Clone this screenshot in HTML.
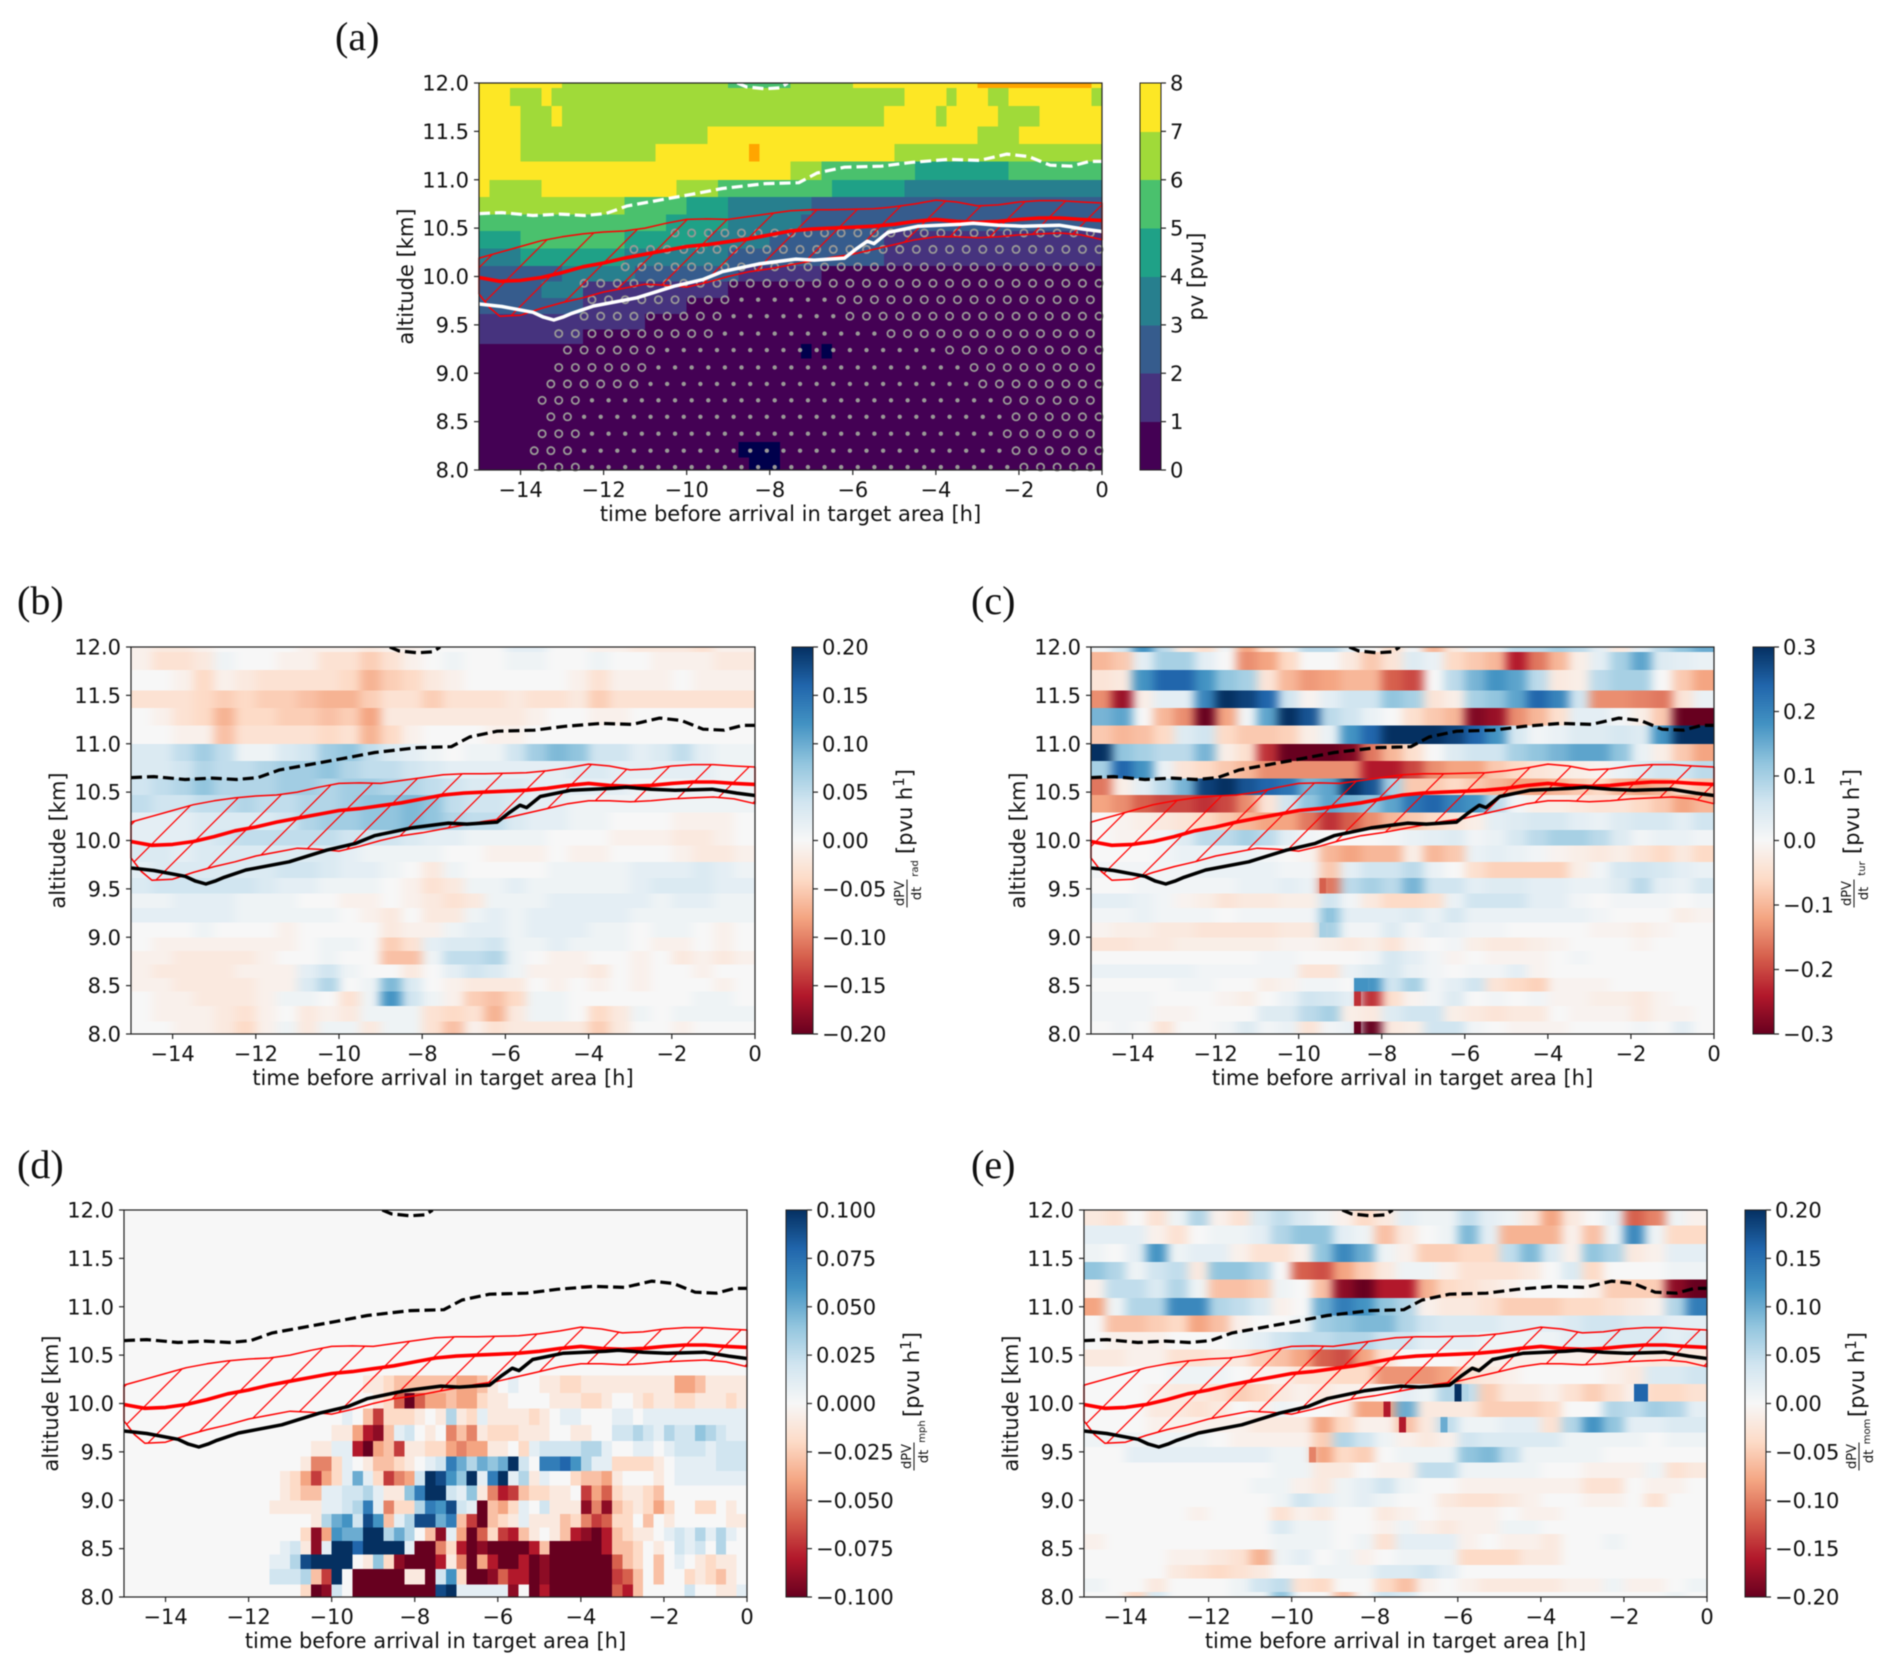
<!DOCTYPE html>
<html lang="en">
<head>
<meta charset="utf-8">
<title>PV tendencies along trajectories</title>
<style>
html,body{margin:0;padding:0;background:#fff;}
body{width:1892px;height:1671px;overflow:hidden;}
svg{display:block;font-family:"DejaVu Sans","Liberation Sans",sans-serif;fill:#111;filter:blur(0.5px);}
</style>
</head>
<body>
<svg id="figure" xmlns="http://www.w3.org/2000/svg" width="1892" height="1671" viewBox="0 0 1892 1671">
<defs id="defs">
<filter id="row-smooth" filterUnits="userSpaceOnUse" x="0" y="0" width="1892" height="1671" color-interpolation-filters="sRGB"><feGaussianBlur stdDeviation="5 0"/></filter>
</defs>
</svg>
<script>
// ---------- shared axis data ----------
const xTickHours = [-14,-12,-10,-8,-6,-4,-2,0];
const yTickKm = [8.0,8.5,9.0,9.5,10.0,10.5,11.0,11.5,12.0];
const stdEdges = [12,11.95,11.76,11.55,11.37,11.19,11.0,10.82,10.64,10.47,10.29,10.11,9.95,9.78,9.61,9.45,9.3,9.15,9.0,8.86,8.72,8.58,8.44,8.29,8.13,8.0];
const momEdges = [12,11.84,11.65,11.46,11.28,11.09,10.91,10.74,10.56,10.38,10.2,10.02,9.86,9.70,9.55,9.39,9.23,9.07,8.93,8.79,8.65,8.49,8.33,8.19,8.05,8.0];

// ---------- shared line series ----------
const redT = [-15,-14.5,-14,-13.5,-13,-12.5,-12,-11.5,-11,-10.5,-10,-9.5,-9,-8.5,-8,-7.5,-7,-6.5,-6,-5.5,-5,-4.5,-4,-3.5,-3,-2.5,-2,-1.5,-1,-0.5,0];
const redCentre = [9.99,9.95,9.96,9.99,10.04,10.10,10.14,10.19,10.23,10.27,10.31,10.33,10.36,10.39,10.43,10.47,10.49,10.50,10.51,10.52,10.54,10.57,10.59,10.57,10.56,10.57,10.59,10.605,10.605,10.59,10.58];
const redUpper = [10.19,10.25,10.31,10.37,10.41,10.44,10.46,10.47,10.50,10.55,10.59,10.595,10.59,10.62,10.65,10.68,10.69,10.69,10.695,10.70,10.72,10.75,10.79,10.77,10.73,10.74,10.77,10.785,10.785,10.77,10.76];
const lowerT = [-15,-14.75,-14.5,-14,-13.5,-13,-12.5,-12,-11.5,-11,-10.5,-10,-9.5,-9,-8.5,-8,-7.5,-7,-6.5,-6,-5.5,-5,-4.5,-4,-3.5,-3,-2.5,-2,-1.5,-1,-0.5,0];
const redLower = [9.82,9.68,9.59,9.60,9.67,9.73,9.78,9.84,9.88,9.92,9.91,9.89,9.94,10.00,10.05,10.08,10.12,10.16,10.20,10.23,10.28,10.33,10.38,10.41,10.41,10.40,10.41,10.43,10.44,10.45,10.43,10.38];
const tropT = [-15,-14.45,-13.7,-13.45,-13.2,-12.98,-12.76,-12.24,-11.2,-10.3,-9.6,-9.15,-8.26,-7.37,-6.93,-6.2,-5.9,-5.65,-5.49,-5.16,-4.42,-3.4,-3.1,-2.5,-1.92,-1.03,-0.44,0];
const tropAlt = [9.716,9.69,9.63,9.58,9.55,9.58,9.62,9.695,9.78,9.90,9.97,10.05,10.13,10.18,10.17,10.19,10.29,10.365,10.34,10.455,10.52,10.54,10.55,10.53,10.52,10.53,10.49,10.465];
const dashT = [-15,-14.45,-13.7,-13.05,-12.46,-11.95,-11.43,-10.77,-9.88,-9.14,-8.1,-7.3,-6.86,-6.2,-5.31,-4.57,-3.69,-2.95,-2.29,-1.77,-1.25,-0.74,-0.3,0];
const dashAlt = [10.65,10.66,10.63,10.645,10.63,10.65,10.73,10.78,10.85,10.91,10.96,10.97,11.07,11.13,11.14,11.18,11.21,11.20,11.265,11.24,11.15,11.14,11.19,11.19];
const capT = [-8.78,-8.56,-8.11,-7.74,-7.57];
const capAlt = [12.0,11.96,11.94,11.95,12.0];

// ---------- panel (a): potential vorticity bins, [bin,count of quarter-hour cells,...] top to bottom ----------
const pvTicks = [0,1,2,3,4,5,6,7,8];
const pvRuns = [
[7,8,6,16,5,6,6,6,7,12,8,11,7,1],
[7,3,6,3,7,1,6,34,7,4,6,1,7,3,6,2,7,8,6,1],
[7,4,6,3,7,1,6,31,7,5,6,1,7,5,6,4,7,6],
[7,4,6,18,7,26,6,4,7,8],
[7,4,6,13,7,9,8,1,7,13,6,20],
[7,30,6,3,5,9,4,9,5,9],
[7,1,6,5,7,13,6,4,5,11,4,7,3,19],
[6,14,5,6,4,4,3,8,2,28],
[5,18,4,6,3,7,2,29],
[4,4,5,10,4,8,3,6,2,11,1,21],
[3,4,4,10,3,10,2,15,1,21],
[2,8,3,7,2,10,1,8,0,27],
[2,6,3,4,1,14,0,36],
[2,10,1,10,0,40],
[1,16,0,44],
[1,10,0,50],
[0,31,-1,1,0,1,-1,1,0,26],
[0,60],[0,60],[0,60],[0,60],[0,60],[0,60],
[0,25,-1,4,0,31],
[0,26,-1,3,0,31]
];
// stippling rows: altitude, newest marker time, first ring time, dots from, dots to
const stippleAlt = [8.03,8.20,8.375,8.55,8.72,8.89,9.06,9.24,9.41,9.59,9.76,9.93,10.10,10.28,10.45];
const stippleLast = [-0.28,-0.07,-0.28,-0.07,-0.28,-0.07,-0.28,-0.07,-0.28,-0.07,-0.28,-0.07,-0.28,-0.07,-0.28];
const stippleFirst = [-13.58,-13.79,-13.58,-13.39,-13.58,-13.39,-13.18,-12.98,-13.18,-12.58,-12.37,-12.58,-11.57,-11.37,-10.41];
const stippleDotFrom = [-12.37,-12.58,-12.37,-12.58,-12.37,-10.97,-10.76,-10.57,-9.15,-8.96,-8.75,0,0,0,0];
const stippleDotTo = [-1.89,-2.10,-2.29,-2.10,-2.29,-2.89,-3.10,-3.71,-5.12,-6.13,-6.35,0,0,0,0];

// ---------- panel (b): radiation tendency, 0.01 pvu/h, half-hour columns, top to bottom ----------
const radTicks = [-0.20,-0.15,-0.10,-0.05,0,0.05,0.10,0.15,0.20];
const radRows = [
[-1,-2,-2,-1,0,0,0,0,-1,-1,-1,-2,-1,-1,0,0,0,0,2,2,0,0,-1,-1,-2,-2,-2,-3,-1,-1],
[-1,-3,-3,-2,1,0,0,-1,-1,-3,-3,-5,-3,-1,0,1,0,0,1,1,0,0,1,0,0,-1,-1,-1,-2,-2],
[0,0,-1,-4,-1,-2,-3,-3,-3,-3,-4,-7,-5,-4,-2,-1,0,0,0,0,0,-1,-3,-1,-1,-1,0,-1,-1,-1],
[-3,-3,-3,-4,-5,-4,-5,-5,-6,-7,-7,-5,-3,-3,-5,-3,-3,-3,-2,-3,-3,-2,-5,-3,-3,-3,-3,-3,-3,-3],
[0,-1,-3,-4,-7,-4,-4,-5,-5,-6,-5,-8,-2,-2,-2,-2,-2,-2,-2,-1,0,0,-1,-1,0,0,0,0,0,0],
[0,0,-1,-1,-6,-3,-3,-3,-3,-4,-3,-7,-4,-1,0,0,0,-1,-1,0,0,0,0,0,0,0,0,0,0,0],
[3,3,5,7,5,1,1,3,4,7,8,5,3,2,1,0,1,1,4,7,9,8,4,4,2,3,5,2,1,1],
[3,3,4,6,5,5,6,7,7,8,6,5,5,4,3,2,2,2,2,2,2,3,3,2,2,2,2,2,1,1],
[4,5,6,8,6,6,6,7,7,6,7,7,6,6,5,4,3,3,3,2,2,2,2,2,1,1,1,1,1,1],
[5,4,4,5,5,6,5,5,6,6,7,8,8,9,8,5,4,4,3,2,2,1,1,1,1,1,1,1,1,1],
[2,2,2,3,3,3,3,4,6,7,7,8,8,9,8,6,5,5,3,2,2,1,1,0,0,0,-1,-1,-1,0],
[2,2,2,3,4,5,5,5,5,5,4,4,4,3,2,2,1,1,1,1,0,0,0,-1,-1,-1,-2,-2,-1,0],
[3,3,2,3,3,3,3,3,3,3,2,1,1,1,1,0,0,-1,-1,-1,0,-1,-1,0,0,0,-1,-2,-2,-1],
[2,3,3,3,3,3,3,4,4,3,2,2,1,0,-2,1,0,0,0,0,1,1,1,1,2,2,2,3,2,1],
[3,4,4,4,4,4,3,2,2,1,1,1,0,-1,-3,-2,1,1,2,1,1,1,1,1,2,3,3,3,2,2],
[1,1,2,2,2,1,1,1,0,0,-1,-1,0,-1,-2,-3,-2,1,1,1,2,2,2,2,2,1,2,2,1,1],
[2,2,2,2,2,1,1,1,1,1,0,-1,-2,0,-2,-2,1,2,1,2,2,2,2,2,1,1,1,1,1,1],
[0,0,0,1,0,0,0,-1,0,0,0,0,-2,-1,-1,1,2,2,1,2,2,2,1,1,0,1,1,0,-1,0],
[0,-1,-1,-1,-1,-1,-1,-1,0,1,1,0,-5,-3,2,3,3,4,1,1,2,1,1,1,0,-1,-1,0,-1,0],
[-1,-1,-2,-2,-2,-2,-1,0,0,1,0,0,-6,-6,1,5,5,6,1,0,-1,-1,0,0,-1,0,-2,-1,-2,-1],
[-1,-2,-2,-2,-2,-1,-1,-1,2,4,1,0,0,-2,0,2,4,3,1,-1,-1,-1,-2,0,-1,0,0,-1,0,0],
[-1,-1,-2,-2,-2,-2,-1,-1,3,6,0,1,9,3,0,-1,-2,-2,-2,0,-1,0,-1,0,-1,0,0,0,-1,0],
[0,-1,-1,-2,-2,-2,-1,1,1,0,-3,1,12,4,1,-1,-5,-6,-4,1,1,0,0,0,0,0,0,1,1,0],
[0,-1,-1,-1,-2,-3,-1,0,-2,-1,-2,1,1,1,-3,-4,-3,-7,-2,1,1,0,-4,-2,1,0,1,1,1,1],
[0,0,-1,-1,-2,-4,-1,1,-2,1,1,-2,1,1,-3,-6,-1,-3,-2,-2,-2,-2,-5,-2,0,0,-1,0,0,0]
];

// ---------- panel (c): turbulence tendency, 0.01 pvu/h, half-hour columns, top to bottom ----------
const turTicks = [-0.3,-0.2,-0.1,0,0.1,0.2,0.3];
const turRows = [
[1,5,18,8,-3,-5,1,-12,-5,1,8,8,3,0,-5,1,-10,-3,2,2,8,8,10,8,3,-3,3,8,12,15],
[-10,-8,3,10,10,3,0,-14,-12,-6,0,0,-3,-8,-4,4,2,-6,-8,-10,-24,-16,-10,-2,3,10,16,4,3,2],
[-4,-3,18,24,24,18,12,10,-4,-10,-13,-12,-10,-10,-18,-20,0,8,14,18,16,8,-3,-2,8,10,10,0,-8,-12],
[-14,-26,-2,3,3,20,30,28,24,6,-1,3,6,6,12,10,-4,-2,10,12,16,24,20,6,-14,-14,-15,-16,-4,2],
[14,16,0,-10,-14,-30,-12,1,16,30,26,8,6,2,0,-5,-8,-10,-28,-26,-14,-10,-5,3,3,1,-2,-8,-30,-30],
[-8,-10,-9,-6,4,6,-6,-8,-8,-7,-2,2,18,24,30,30,30,28,24,18,5,1,2,4,4,5,4,18,30,30],
[30,12,10,8,8,14,-2,-5,-22,-30,-30,-30,-28,-16,-10,-5,0,4,6,6,10,12,14,16,16,12,2,-2,-8,-12],
[10,24,18,2,-4,-6,-8,-10,-14,-14,-14,-14,-14,-24,-24,-20,-14,-12,-12,-8,-6,-4,-3,-2,-1,2,4,6,6,8],
[-16,-2,3,8,14,28,30,26,24,22,14,16,30,26,10,-8,-8,-6,-8,-10,-12,-12,-10,-8,-6,-10,-12,-10,-6,-8],
[-12,-14,-18,-20,-20,-22,-20,-14,-4,6,12,16,14,12,16,22,24,20,18,8,1,-2,-2,-3,-4,-4,-6,-8,-12,-10],
[0,-1,-2,-3,-4,-6,-8,-10,-12,-12,-16,-22,-18,-14,-10,-8,-6,-4,-2,3,4,5,5,3,2,4,5,5,3,6],
[0,-1,-1,1,4,8,8,10,8,3,1,0,0,0,1,2,3,4,1,2,5,8,10,10,8,4,1,2,2,1],
[0,0,0,1,2,2,2,2,1,0,-1,-10,-12,-10,-10,-2,-10,-8,2,3,2,1,-1,-2,-3,-2,-4,-6,-3,-6],
[1,1,1,1,1,2,2,2,2,1,1,-8,3,6,6,8,2,0,-5,-7,-7,-7,-7,-2,1,5,6,5,3,2],
[0,0,1,1,1,1,1,2,2,3,2,-16,8,10,8,14,6,6,3,4,4,3,3,2,2,4,8,3,2,5],
[3,3,2,1,-1,-2,-4,-3,-3,-2,-2,6,1,-3,-6,-6,-5,2,6,6,6,3,3,1,0,1,1,1,0,1],
[1,1,2,1,1,1,0,1,1,1,1,12,3,3,3,4,2,5,2,2,2,2,2,2,1,0,0,0,-2,-1],
[-1,-2,-2,-3,-3,-4,-4,-4,-4,-3,-3,10,1,1,4,1,3,2,1,1,0,0,0,0,-1,-1,-2,-1,0,0],
[-4,-4,-3,-3,-2,-2,-2,-2,-2,-1,-1,-2,-3,-2,-4,-1,0,1,-2,-3,-3,-2,-1,0,0,0,-1,0,0,0],
[0,0,0,0,0,0,0,0,1,1,0,0,0,1,5,3,1,-1,0,-1,-1,-1,0,1,0,0,0,0,0,0],
[2,2,2,2,2,1,1,1,1,1,-4,-4,2,4,5,2,1,0,1,1,3,-1,0,0,0,0,0,0,0,0],
[0,0,0,0,1,1,0,0,-2,-1,1,1,0,18,6,10,1,3,6,-4,-6,-7,-1,-1,-1,0,0,0,0,0],
[1,1,1,0,0,0,-1,-2,0,2,6,5,3,-22,-5,-1,1,4,0,1,0,1,-1,-1,-2,-2,-3,-1,0,0],
[1,1,1,-1,-1,0,0,0,4,4,8,10,-2,-3,4,6,6,-2,-3,-4,-3,-3,0,-1,-1,-1,-3,-1,-1,0],
[0,1,0,-4,0,0,1,4,1,2,-4,1,2,-30,-3,-2,6,6,1,0,-1,-1,-1,0,0,0,1,0,3,0]
];
// narrow ten-minute cells in panel (c): time, row index, value
const turSpikeT = [-8.58,-8.58,-8.58,-8.42,-9.42,-9.25,-9.42];
const turSpikeRow = [24,22,21,21,14,16,17];
const turSpikeVal = [-30,-22,18,18,-18,12,10];

// ---------- panel (d): microphysics tendency, 0.01 pvu/h, quarter-hour columns from -12 h, rows below 10.29 km ----------
const mphTicks = [-0.100,-0.075,-0.050,-0.025,0,0.025,0.050,0.075,0.100];
const mphRows = [
[0,0,0,0,0,0,0,0, 0,0,0,-1,-1,-2,-3,-3, -3,-3,-3,-3,-4,-4,-3,-1, 0,1,0,0,-1,-1,-2,-2, -1,-1,-1,-1,-1,-1,-1,-1, -1,-4,-4,-3,-1,-1,-1,-1],
[0,0,0,0,0,0,0,0, 0,0,0,0,-1,-2,-6,-10, -6,-4,-4,-3,-4,-4,-2,-1, -1,0,0,0,0,-1,-1,-1, -2,-2,-1,0,0,-1,-2,-1, -1,-2,-2,-1,-1,-1,-2,-1],
[0,0,0,0,0,0,0,0, 0,1,0,-3,-7,-2,-2,-2, -1,0,-1,3,-1,-2,1,-1, -1,-1,-1,-2,-1,0,1,1, 0,0,0,1,1,0,1,1, 1,1,1,1,1,1,1,1],
[0,0,0,0,0,0,0,0, -1,-1,-4,-8,-9,-3,1,2, 0,-1,0,-5,-3,-5,-1,-2, -2,-2,-1,-1,-1,0,0,-1, -1,0,0,2,2,3,2,1, 3,2,2,4,3,2,1,1],
[0,0,0,0,0,0,-1,-1, 1,1,-8,-10,-4,-3,-7,-1, -1,-2,-2,-4,-5,-4,-4,-1, -1,0,-2,1,2,2,2,2, 3,3,1,0,0,1,1,0, 1,2,2,2,1,2,2,2],
[0,0,0,0,0,-1,-5,-5, -2,1,0,-1,-3,-3,-2,-1, 0,1,2,7,5,3,5,4, 5,10,2,0,7,7,8,6, 3,1,1,-2,-2,-2,-2,-1, 0,1,1,1,1,2,2,2],
[0,0,0,-1,-2,-4,-7,-4, -2,1,5,1,-2,-7,-5,-4, 2,10,9,6,4,10,1,7, 10,1,3,-1,1,0,0,-2, -3,-3,-4,-1,0,0,0,-1, 0,1,1,1,1,1,1,1],
[0,0,0,-1,-2,-3,-3,1, 1,2,2,3,1,-1,-1,4, 7,10,10,2,1,4,-1,-5, -8,-7,-3,-2,-2,-1,-1,0, -7,-4,-6,-2,-1,-1,-2,-3, 0,0,0,0,0,0,0,0],
[0,0,-1,-1,-1,-1,-1,1, 1,2,3,7,1,-5,-2,-2, 3,7,6,9,2,1,-10,-3, -4,-2,1,0,2,-1,-1,-1, -9,-5,-9,-3,-2,-1,-2,-4, -2,0,0,-2,-2,0,-1,0],
[0,0,0,0,0,0,-1,3, 5,6,2,9,6,-3,1,3, 9,9,5,7,-3,-7,-10,-3, -2,-1,1,-1,-1,-1,-3,-2, -5,-7,-6,-2,-2,0,-3,0, -1,0,0,0,0,0,-1,-1],
[0,0,0,0,0,-2,-9,-4, 6,5,5,10,10,3,5,3, 0,-3,-9,1,-4,-10,-6,-2, -7,-8,-3,-1,0,-1,-3,-8, -9,-10,-8,-3,-2,-1,-1,0, 1,2,1,3,1,3,1,0],
[0,0,0,1,2,-1,-9,1, 10,10,8,10,10,10,10,1, -10,-10,-5,-2,-8,-10,-9,-10, -10,-10,-10,-8,-3,-10,-10,-10, -10,-10,-8,-3,-3,-2,0,-1, 0,2,1,2,0,3,0,0],
[0,0,1,1,3,9,10,10, 10,10,0,-1,4,-2,-9,-10, -10,-10,-8,-1,-5,-10,-4,-8, -10,-10,-8,-10,-9,-10,-10,-10, -10,-10,-10,-6,-3,-2,0,-3, 0,1,0,-1,-2,-1,-1,0],
[0,0,2,2,2,3,-3,-7, 10,0,-10,-10,-10,-10,-10,-1, -1,-10,2,6,-2,-10,-10,-9, -6,-8,-8,-10,-9,-10,-10,-10, -10,-10,-10,-7,-6,-3,0,-3, 0,0,-2,-1,-2,-3,-1,0],
[0,0,0,0,0,-2,-10,-9, 2,0,-10,-10,-10,-10,-10,-10, -10,-10,9,10,1,1,1,1, 1,-9,0,-10,-8,-10,-10,-10, -10,-10,-10,-6,-8,-3,0,0, 0,0,2,0,0,-1,-1,1]
];

// ---------- panel (e): momentum tendency, 0.01 pvu/h, half-hour columns, top to bottom ----------
const momTicks = [-0.20,-0.15,-0.10,-0.05,0,0.05,0.10,0.15,0.20];
const momRows = [
[-2,-3,0,-3,1,6,-1,-3,3,5,3,1,-1,-4,-2,2,1,1,5,2,1,-2,-8,-2,0,2,-12,-10,1,-1],
[2,2,2,-1,-3,0,1,1,2,6,8,8,2,1,-6,-2,0,1,9,2,-7,-7,-7,-1,-6,1,13,1,-4,-4],
[1,0,2,12,1,2,2,-1,-3,-3,-1,8,13,10,1,-1,-5,-5,-4,-4,5,9,3,-1,8,6,-2,-1,2,2],
[8,6,1,4,5,-2,8,8,6,0,-12,-13,-8,-5,-2,1,1,-1,-3,-3,-3,-2,0,3,-4,0,0,0,1,1],
[-1,5,5,3,6,1,-6,-6,-5,1,0,-6,-18,-20,-16,-16,-7,-4,-3,-2,-1,0,0,0,-1,-5,-5,-5,-18,-20],
[-8,1,6,6,13,13,6,5,3,-1,0,10,14,12,8,6,-1,-2,-2,-3,-5,-5,-5,-4,-4,-3,-2,-1,6,14],
[0,-6,-6,-5,-4,-8,-6,-1,0,0,1,7,8,9,9,6,4,3,3,3,2,2,2,3,4,4,3,3,2,2],
[0,-1,-1,-1,0,0,0,1,2,4,5,5,6,6,4,4,2,2,2,1,1,1,1,2,2,3,3,3,2,3],
[-2,-2,-1,-1,-3,-3,-2,-2,-5,-6,-8,-12,-13,-8,-3,0,0,0,-1,-1,-1,-1,-1,-1,-1,-2,-1,-2,-2,-2],
[0,0,0,0,1,1,1,0,-1,-1,-3,-3,-4,-4,-9,-9,-9,-8,-3,-2,-1,0,0,0,0,-1,-2,3,3,4],
[0,0,0,-1,-2,-2,-3,-5,-4,-2,-1,-2,-1,-1,0,2,1,6,5,-5,-2,-2,-1,-3,-5,-3,-1,-4,-4,-3],
[0,0,0,-2,-2,-3,-2,0,-1,1,0,0,-1,-8,-8,10,-2,-2,-2,-5,-5,-5,-4,0,0,6,5,7,6,2],
[0,0,0,-1,-1,-1,-1,-1,-2,-2,-2,-8,-4,-1,-1,-6,-2,5,1,1,2,2,-3,6,12,8,2,2,3,3],
[1,1,1,1,1,1,0,-1,-1,-1,-1,-5,6,4,1,-1,-2,-1,4,3,3,3,3,1,1,1,1,0,1,1],
[0,0,2,2,2,2,2,2,2,1,1,-8,-4,-5,0,1,1,1,8,9,5,1,1,1,1,0,0,0,0,0],
[0,0,0,0,0,0,0,0,0,1,1,-2,-2,0,-1,-1,5,5,1,1,1,1,0,0,-1,-1,-1,1,-3,-2],
[0,0,0,0,0,0,0,0,1,1,-1,-2,1,2,4,1,0,0,-1,-1,-1,-1,-1,-1,-3,-3,0,-1,-1,0],
[0,0,0,0,0,0,0,0,0,1,4,2,1,2,1,0,0,-2,-3,-3,-2,-1,0,0,-1,-1,0,-3,0,0],
[0,0,0,0,0,-1,0,0,0,-3,-1,-2,0,0,-2,-1,0,-1,-1,-1,0,-1,-1,0,0,0,0,0,0,0],
[0,0,0,0,0,0,0,0,0,3,1,1,0,0,-1,1,-1,-2,-1,-1,1,1,0,0,0,0,0,0,0,0],
[-1,0,0,0,0,0,0,0,0,1,1,1,0,1,-3,2,2,2,-1,0,-1,-1,-2,0,0,1,0,0,0,0],
[0,0,0,0,-1,-1,-2,-3,-7,1,2,0,1,-1,0,1,1,1,-4,-4,-4,-2,-2,0,0,0,0,0,0,0],
[0,0,0,0,-2,-3,-4,-3,-2,0,0,1,1,1,3,3,4,2,0,0,0,0,0,0,0,0,0,0,0,0],
[1,0,0,-2,0,0,0,1,4,5,-3,-4,0,0,-4,-6,-1,0,-1,-2,-2,-2,-2,-1,-1,1,-1,-1,0,1],
[0,0,-4,3,0,0,0,1,1,8,0,0,-6,0,4,3,0,0,0,0,0,0,0,0,0,0,0,0,1,0]
];
// narrow ten-minute cells in panel (e): time, row index, value
const momSpikeT = [-6.0,-5.83,-1.67,-1.5,-7.7,-7.33,-6.33,-9.5];
const momSpikeRow = [10,10,10,10,11,12,12,14];
const momSpikeVal = [20,6,16,16,-16,-16,10,-10];

// ---------- colour maps ----------
const viridisBins = ['#440154','#46337e','#365c8d','#277f8e','#1fa187','#4ac16d','#a0da39','#fde725'];
const rdbuStops = ['#67001f','#b2182b','#d6604d','#f4a582','#fddbc7','#f7f7f7','#d1e5f0','#92c5de','#4393c3','#2166ac','#053061'];
function hexRgb(h){return [parseInt(h.substr(1,2),16),parseInt(h.substr(3,2),16),parseInt(h.substr(5,2),16)];}
function rdbu(n){
  const p=Math.max(0,Math.min(1,(n+1)/2))*10, i=Math.min(9,Math.floor(p)), f=p-i;
  const a=hexRgb(rdbuStops[i]), b=hexRgb(rdbuStops[i+1]);
  return 'rgb('+a.map(function(v,k){return Math.round(v+(b[k]-v)*f);}).join(',')+')';
}
function pvColour(bin){
  if(bin<0) return '#00004c';
  if(bin>=8) return '#ffa500';
  return viridisBins[Math.floor(bin)];
}

// ---------- helpers ----------
const NS='http://www.w3.org/2000/svg';
const figure=document.getElementById('figure');
const defs=document.getElementById('defs');
function make(tag,parent,attrs){
  const n=document.createElementNS(NS,tag);
  for(const k in attrs){n.setAttribute(k,attrs[k]);}
  parent.appendChild(n);
  return n;
}
function label(parent,x,y,str,size,anchor,extra){
  const a=Object.assign({x:x,y:y,'font-size':size,'text-anchor':anchor||'start'},extra||{});
  const t=make('text',parent,a);
  t.textContent=str;
  return t;
}
function minus(s){return s.replace('-','\u2212');}

function buildPanel(p){
  const X=function(t){return p.left+(t+15)/15*p.w;};
  const Y=function(a){return p.top+(12-a)/4*p.h;};
  const aid='axes-clip-'+p.id, pid='hatch-'+p.id;
  const clip=make('clipPath',defs,{id:aid});
  make('rect',clip,{x:p.left,y:p.top,width:p.w,height:p.h});

  const g=make('g',figure,{});
  
  
  const letter=label(g,p.letterX,p.letterY,'('+p.id+')',40,'start',{'font-family':'"Liberation Serif",serif'});
  
  

  // heat cells
  const cells=make('g',g,{'shape-rendering':'crispEdges','clip-path':'url(#'+aid+')'});
  
  
  const bg=make('rect',cells,{x:p.left,y:p.top,width:p.w,height:p.h,fill:p.bg});
  
  
  const inner=make('g',cells,p.smooth?{filter:'url(#row-smooth)'}:{});
  
  
  p.rows.forEach(function(row,r){
    const ri=r+p.rowOffset;
    row.forEach(function(v,c){
      const t0=p.t0+c*p.step;
      let x=X(t0), w=X(t0+p.step)-X(t0)+0.4;
      if(p.smooth&&c===0){x-=24;w+=24;}
      if(p.smooth&&c===row.length-1){w+=24;}
      const cell=make('rect',inner,{x:x,y:Y(p.edges[ri]),width:w,height:Y(p.edges[ri+1])-Y(p.edges[ri])+0.4,fill:p.colour(v)});
      
      
    });
  });
  if(p.spikeT){
    p.spikeT.forEach(function(t,i){
      const ri=p.spikeRow[i];
      const cell=make('rect',cells,{x:X(t-1/12),y:Y(p.edges[ri]),width:X(t+1/12)-X(t-1/12),height:Y(p.edges[ri+1])-Y(p.edges[ri]),fill:p.colour(p.spikeVal[i])});
      
      
    });
  }

  // stippling
  if(p.stipple){
    const st=make('g',g,{});
    
    
    stippleAlt.forEach(function(alt,i){
      for(let t=stippleLast[i];t>=stippleFirst[i];t-=0.4){
        const dot=(t>=stippleDotFrom[i]&&t<stippleDotTo[i]);
        const m=make('circle',st,dot?{cx:X(t),cy:Y(alt),r:2.2,fill:'#999996'}:{cx:X(t),cy:Y(alt),r:3.6,fill:'none',stroke:'#999996','stroke-width':1.8});
        
        
      }
    });
  }

  // hatch band
  const pat=make('pattern',defs,{id:pid,patternUnits:'userSpaceOnUse',width:40,height:40,patternTransform:'translate('+p.hatchShift+',0)'});
  make('path',pat,{d:'M0 40L40 0M-10 10L10 -10M30 50L50 30',stroke:'#ff0000','stroke-width':1.2,fill:'none'});
  let band='';
  redT.forEach(function(t,i){band+=(i?'L':'M')+X(t).toFixed(1)+' '+Y(redUpper[i]).toFixed(1);});
  for(let i=lowerT.length-1;i>=0;i--){band+='L'+X(lowerT[i]).toFixed(1)+' '+Y(redLower[i]).toFixed(1);}
  band+='Z';
  const hatch=make('path',g,{d:band,fill:'url(#'+pid+')',stroke:'#ff0000','stroke-width':1.5,'stroke-linejoin':'round'});
  
  

  function series(ts,as,attrs,name){
    const pts=ts.map(function(t,i){return X(t).toFixed(1)+','+Y(as[i]).toFixed(1);}).join(' ');
    const l=make('polyline',g,Object.assign({points:pts,fill:'none','stroke-linejoin':'round','clip-path':'url(#'+aid+')'},attrs));
    
    
  }
  series(redT,redCentre,{stroke:'#ff0000','stroke-width':3.6},'red-median-line');
  series(tropT,tropAlt,{stroke:p.lineColour,'stroke-width':3.5},'solid-pv-contour');
  series(dashT,dashAlt,{stroke:p.lineColour,'stroke-width':3.2,'stroke-dasharray':'11 5'},'dashed-pv-contour');
  series(capT,capAlt,{stroke:p.lineColour,'stroke-width':3.2,'stroke-dasharray':'11 5'},'dashed-pv-contour-top');

  // frame + ticks
  const frame=make('rect',g,{x:p.left,y:p.top,width:p.w,height:p.h,fill:'none',stroke:'#222','stroke-width':1.2});
  
  
  xTickHours.forEach(function(t){
    const tick=make('line',g,{x1:X(t),x2:X(t),y1:p.top+p.h,y2:p.top+p.h+5,stroke:'#222','stroke-width':1.2});
    
    
    const tl=label(g,X(t),p.top+p.h+27,minus(String(t)),21,'middle');
    
    
  });
  yTickKm.forEach(function(a){
    const tick=make('line',g,{x1:p.left-5,x2:p.left,y1:Y(a),y2:Y(a),stroke:'#222','stroke-width':1.2});
    
    
    const tl=label(g,p.left-10,Y(a)+7.5,a.toFixed(1),21,'end');
    
    
  });
  const xt=label(g,p.left+p.w/2,p.top+p.h+51,'time before arrival in target area [h]',21,'middle');
  
  
  const ymid=p.top+p.h/2;
  const yt=label(g,0,0,'altitude [km]',21,'middle',{transform:'translate('+(p.left-66)+','+ymid+') rotate(-90)'});
  
  

  // colourbar
  const cb=make('g',g,{});
  
  
  const cbR=p.cbLeft+p.cbW;
  if(p.discrete){
    viridisBins.forEach(function(col,i){
      const seg=make('rect',cb,{x:p.cbLeft,y:p.top+p.h*(1-(i+1)/8),width:p.cbW,height:p.h/8+0.4,fill:col,'shape-rendering':'crispEdges'});
      
      
    });
  } else {
    const gid='grad-'+p.id;
    const gr=make('linearGradient',defs,{id:gid,x1:0,y1:1,x2:0,y2:0});
    rdbuStops.forEach(function(c,i){make('stop',gr,{offset:i/10,'stop-color':c});});
    const ramp=make('rect',cb,{x:p.cbLeft,y:p.top,width:p.cbW,height:p.h,fill:'url(#'+gid+')'});
    
    
  }
  const cbf=make('rect',cb,{x:p.cbLeft,y:p.top,width:p.cbW,height:p.h,fill:'none',stroke:'#222','stroke-width':1});
  
  
  p.ticks.forEach(function(v){
    const y=p.top+p.h*(1-(v-p.ticks[0])/(p.ticks[p.ticks.length-1]-p.ticks[0]));
    const tick=make('line',cb,{x1:cbR,x2:cbR+5,y1:y,y2:y,stroke:'#222','stroke-width':1.2});
    
    
    const tl=label(cb,cbR+9,y+7.5,minus(v.toFixed(p.decimals)),21,'start');
    
    
  });

  // colourbar title
  if(p.discrete){
    const ct=label(cb,0,0,'pv [pvu]',21,'middle',{transform:'translate('+p.cbTitleX+','+ymid+') rotate(-90)'});
    
    
  } else {
    const tg=make('g',cb,{transform:'translate('+p.cbTitleX+','+ymid+') rotate(-90)'});
    
    
    const unit=make('text',tg,{x:29,y:5,'font-size':21,'text-anchor':'middle'});
    
    
    unit.textContent='[pvu h';
    const s1=make('tspan',unit,{dy:-8,'font-size':15});
    s1.textContent='1';
    const s2=make('tspan',unit,{dy:8});
    s2.textContent=']';
    const top=label(tg,-53,-3,'dPV',13,'middle');
    
    
    const rule=make('line',tg,{x1:-67,x2:-39,y1:0,y2:0,stroke:'#222','stroke-width':1.1});
    
    
    const bot=label(tg,-53,14,'dt',13,'middle');
    
    
    const sub=label(tg,-28,11,p.sub,10,'middle');
    
    
  }
}

const pvFlat=pvRuns.map(function(runs){
  const out=[];
  for(let i=0;i<runs.length;i+=2){for(let k=0;k<runs[i+1];k++){out.push(runs[i]);}}
  return out;
});
function norm(vmaxHundredths){return function(v){return rdbu(v/vmaxHundredths);};}

buildPanel({id:'a',left:479,top:83,w:623,h:387,rows:pvFlat,edges:stdEdges,rowOffset:0,t0:-15,step:0.25,colour:pvColour,bg:'#440154',
  stipple:true,lineColour:'#ffffff',hatchShift:26.7,letterX:335,letterY:50,cbLeft:1140,cbW:21,ticks:pvTicks,decimals:0,discrete:true,cbTitleX:1203});
buildPanel({id:'b',left:131,top:647,w:624,h:387,rows:radRows,edges:stdEdges,rowOffset:0,t0:-15,step:0.5,colour:norm(20),bg:'#f7f7f7',smooth:true,
  lineColour:'#000000',hatchShift:36,letterX:17,letterY:614,cbLeft:792,cbW:21,ticks:radTicks,decimals:2,cbTitleX:907,sub:'rad'});
buildPanel({id:'c',left:1091,top:647,w:623,h:387,rows:turRows,edges:stdEdges,rowOffset:0,t0:-15,step:0.5,colour:norm(30),bg:'#f7f7f7',smooth:true,
  spikeT:turSpikeT,spikeRow:turSpikeRow,spikeVal:turSpikeVal,
  lineColour:'#000000',hatchShift:17.5,letterX:971,letterY:614,cbLeft:1753,cbW:21,ticks:turTicks,decimals:1,cbTitleX:1854,sub:'tur'});
buildPanel({id:'d',left:124,top:1210,w:623,h:387,rows:mphRows,edges:stdEdges,rowOffset:10,t0:-12,step:0.25,colour:norm(10),bg:'#f7f7f7',
  lineColour:'#000000',hatchShift:31,letterX:17,letterY:1178,cbLeft:786,cbW:21,ticks:mphTicks,decimals:3,cbTitleX:914,sub:'mph'});
buildPanel({id:'e',left:1084,top:1210,w:623,h:387,rows:momRows,edges:momEdges,rowOffset:0,t0:-15,step:0.5,colour:norm(20),bg:'#f7f7f7',smooth:true,
  spikeT:momSpikeT,spikeRow:momSpikeRow,spikeVal:momSpikeVal,
  lineColour:'#000000',hatchShift:30,letterX:971,letterY:1178,cbLeft:1745,cbW:21,ticks:momTicks,decimals:2,cbTitleX:1859,sub:'mom'});
</script>
</body>
</html>
